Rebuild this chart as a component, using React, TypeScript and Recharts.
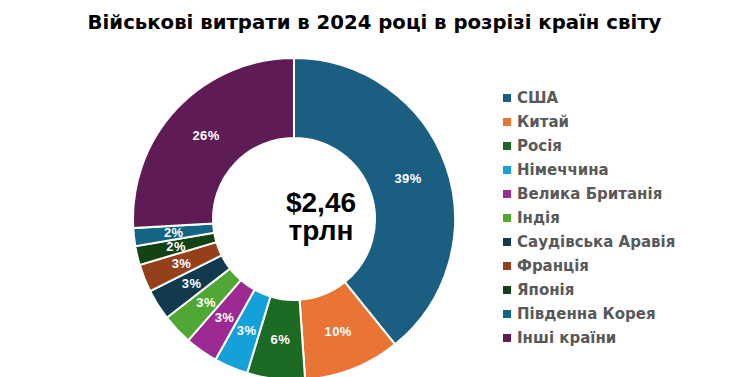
import React from 'react';
import { PieChart, Pie, Cell, Legend } from 'recharts';

const countries = [
  'США',
  'Китай',
  'Росія',
  'Німеччина',
  'Велика Британія',
  'Індія',
  'Саудівська Аравія',
  'Франція',
  'Японія',
  'Південна Корея',
  'Інші країни',
];

// share of world military spending, %
const shares = [39.2, 9.7, 5.8, 3.4, 3.3, 3.1, 3.1, 2.8, 1.9, 1.8, 25.9];

const colors = [
  '#1a5f82',
  '#e97434',
  '#1d6a25',
  '#14a1d9',
  '#9b2b93',
  '#4fa833',
  '#113a4f',
  '#95401a',
  '#124216',
  '#146583',
  '#5f1b56',
];

const title = 'Військові витрати в 2024 році в розрізі країн світу';
const centerLines = ['$2,46', 'трлн'];

const data = countries.map((name, i) => ({ name, value: shares[i] }));

const RADIAN = Math.PI / 180;

const renderLabel = (props: any) => {
  const { cx, cy, midAngle, innerRadius, outerRadius, percent } = props;
  const r = (innerRadius + outerRadius) / 2;
  const x = cx + r * Math.cos(-midAngle * RADIAN);
  const y = cy + r * Math.sin(-midAngle * RADIAN);
  return (
    <text
      x={x}
      y={y}
      fill="#fff"
      textAnchor="middle"
      dominantBaseline="central"
      style={{
        fontFamily: 'Liberation Sans, Arial, sans-serif',
        fontWeight: 700,
        fontSize: 13,
        letterSpacing: 0.4,
      }}
    >
      {`${Math.round(percent * 100)}%`}
    </text>
  );
};

const LegendList = () => (
  <div style={{ fontFamily: 'DejaVu Sans, sans-serif', fontWeight: 700, fontSize: 15, color: '#595959' }}>
    {countries.map((name, i) => (
      <div key={name} style={{ display: 'flex', alignItems: 'center', height: 24 }}>
        <span style={{ width: 8, height: 8, background: colors[i], marginRight: 6, display: 'inline-block' }} />
        <span>{name}</span>
      </div>
    ))}
  </div>
);

export default function App() {
  return (
    <div style={{ position: 'absolute', left: 0, top: 0, width: 749, height: 377, background: '#fff' }}>
      <div
        style={{
          position: 'absolute',
          top: 11,
          left: 0,
          width: 749,
          textAlign: 'center',
          fontFamily: 'DejaVu Sans, sans-serif',
          fontWeight: 700,
          fontSize: 19.7,
          color: '#000',
        }}
      >
        {title}
      </div>
      <PieChart width={749} height={377} margin={{ top: 0, right: 0, bottom: 0, left: 0 }}>
        <Pie
          data={data}
          dataKey="value"
          nameKey="name"
          cx={294}
          cy={219}
          innerRadius={81}
          outerRadius={161}
          startAngle={90}
          endAngle={-270}
          stroke="#fff"
          strokeWidth={2}
          label={renderLabel}
          labelLine={false}
          isAnimationActive={false}
        >
          {data.map((d, i) => (
            <Cell key={d.name} fill={colors[i]} />
          ))}
        </Pie>
        <Legend
          layout="vertical"
          content={<LegendList />}
          wrapperStyle={{ position: 'absolute', left: 503, top: 86, width: 240 }}
        />
      </PieChart>
      <div
        style={{
          position: 'absolute',
          left: 261,
          top: 189,
          width: 120,
          textAlign: 'center',
          fontFamily: 'Liberation Sans, Arial, sans-serif',
          fontWeight: 700,
          fontSize: 28,
          lineHeight: '28px',
          color: '#000',
        }}
      >
        {centerLines.map((t) => (
          <div key={t}>{t}</div>
        ))}
      </div>
    </div>
  );
}
